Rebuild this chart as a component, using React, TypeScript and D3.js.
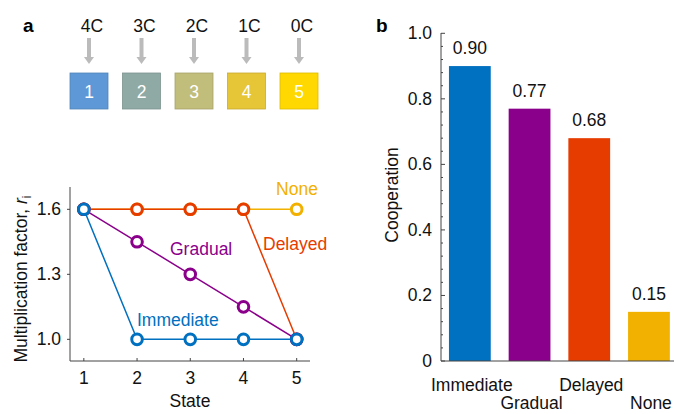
import React from "react";
import * as d3 from "d3";

const states = [1, 2, 3, 4, 5];
const stateLabels = ["4C", "3C", "2C", "1C", "0C"];
const stateColors = ["#5e98d6", "#8fa9a4", "#c1bd7b", "#e6c537", "#fed800"];

const seriesNames = ["None", "Delayed", "Gradual", "Immediate"];
const noneValues = [1.6, 1.6, 1.6, 1.6, 1.6];
const delayedValues = [1.6, 1.6, 1.6, 1.6, 1.0];
const gradualValues = [1.6, 1.45, 1.3, 1.15, 1.0];
const immediateValues = [1.6, 1.0, 1.0, 1.0, 1.0];
const seriesColors = ["#f2b100", "#e63c00", "#8b008b", "#0070c0"];
const yTicksA = [1.0, 1.3, 1.6];

const categories = ["Immediate", "Gradual", "Delayed", "None"];
const cooperation = [0.9, 0.77, 0.68, 0.15];
const barColors = ["#0070c0", "#8b008b", "#e63c00", "#f2b100"];
const yTicksB = [0, 0.2, 0.4, 0.6, 0.8, 1.0];

const FONT = "'Liberation Sans', Arial, Helvetica, sans-serif";
const AX = "#444";
const FS = 17.5;

export default function App() {
  // Panel a scales
  const xA = d3.scaleLinear().domain([0.74, 5.25]).range([70, 310]);
  const yA = d3.scaleLinear().domain([0.9, 1.703]).range([361, 187]);
  const sq = d3.scaleLinear().domain([1, 5]).range([89, 299]);
  const allSeries = [noneValues, delayedValues, gradualValues, immediateValues];
  const line = d3
    .line<number>()
    .x((_, i) => xA(states[i]))
    .y((d) => yA(d));

  // Panel b scales
  const xB = d3
    .scaleBand<string>()
    .domain(categories)
    .range([440, 440 + 59.7 * 4])
    .paddingInner(0.3)
    .paddingOuter(0.15);
  const yB = d3.scaleLinear().domain([0, 1]).range([361, 33.3]);
  const minorB = d3.range(0, 1.0001, 0.04).filter((v) => Math.abs(Math.round(v * 5) - v * 5) > 1e-6);

  const labelPos = [
    { x: 297, y: 195, anchor: "middle" },
    { x: 263, y: 250, anchor: "start" },
    { x: 170, y: 255, anchor: "start" },
    { x: 137, y: 326, anchor: "start" },
  ];

  return (
    <svg width={674} height={414} style={{ position: "absolute", left: 0, top: 0, fontFamily: FONT }}>
      <rect width={674} height={414} fill="#fff" />
      {/* Panel labels */}
      <text x={23} y={32} fontSize={19} fontWeight="bold" fill="#000">a</text>
      <text x={376} y={32} fontSize={19} fontWeight="bold" fill="#000">b</text>

      {/* State squares */}
      {states.map((s, i) => {
        const cx = sq(s);
        return (
          <g key={s}>
            <text x={cx + 3} y={32} fontSize={FS} textAnchor="middle" fill="#111">{stateLabels[i]}</text>
            <rect x={cx - 2} y={38} width={4} height={20} fill="#bbb" />
            <path d={`M${cx - 5},57 L${cx + 5},57 L${cx},64 Z`} fill="#bbb" />
            <rect x={cx - 19} y={73} width={38} height={36} fill={stateColors[i]} stroke={d3.color(stateColors[i])!.darker(0.4).toString()} strokeWidth={0.8} />
            <text x={cx} y={98} fontSize={FS} textAnchor="middle" fill="#fff">{s}</text>
          </g>
        );
      })}

      {/* Panel a axes */}
      <line x1={70} x2={70} y1={187} y2={361} stroke={AX} strokeWidth={1} />
      <line x1={70} x2={310} y1={361} y2={361} stroke={AX} strokeWidth={1} />
      {yTicksA.map((t) => (
        <g key={t}>
          <line x1={67} x2={70} y1={yA(t)} y2={yA(t)} stroke={AX} />
          <text x={61} y={yA(t) + 6} fontSize={FS} textAnchor="end" fill="#111">{t.toFixed(1)}</text>
        </g>
      ))}
      {states.map((s) => (
        <g key={s}>
          <line x1={xA(s)} x2={xA(s)} y1={358} y2={361} stroke={AX} />
          <text x={xA(s)} y={384} fontSize={FS} textAnchor="middle" fill="#111">{s}</text>
        </g>
      ))}
      <text x={190} y={407} fontSize={FS} textAnchor="middle" fill="#111">State</text>
      <text transform="translate(27,279) rotate(-90)" fontSize={FS} textAnchor="middle" fill="#111">
        Multiplication factor, <tspan fontStyle="italic">r</tspan>
        <tspan fontSize={12} dy={4}>i</tspan>
      </text>

      {/* Lines */}
      {allSeries.map((vals, k) => (
        <g key={seriesNames[k]}>
          <path d={line(vals)!} fill="none" stroke={seriesColors[k]} strokeWidth={1.5} />
          {vals.map((v, i) => (
            <circle key={i} cx={xA(states[i])} cy={yA(v)} r={5.3} fill="#fff" stroke={seriesColors[k]} strokeWidth={3} />
          ))}
          <text x={labelPos[k].x} y={labelPos[k].y} fontSize={FS} textAnchor={labelPos[k].anchor as any} fill={seriesColors[k]}>
            {seriesNames[k]}
          </text>
        </g>
      ))}

      {/* Panel b */}
      {categories.map((c, i) => (
        <g key={c}>
          <rect x={xB(c)!} y={yB(cooperation[i])} width={xB.bandwidth()} height={yB(0) - yB(cooperation[i])} fill={barColors[i]} />
          <text x={xB(c)! + xB.bandwidth() / 2} y={yB(cooperation[i]) - 12} fontSize={FS} textAnchor="middle" fill="#111">
            {cooperation[i].toFixed(2)}
          </text>
          <text x={xB(c)! + xB.bandwidth() / 2 + 2} y={i % 2 === 0 ? 391 : 409} fontSize={FS} textAnchor="middle" fill="#111">
            {c}
          </text>
        </g>
      ))}
      <line x1={441} x2={441} y1={33} y2={361} stroke={AX} strokeWidth={1} />
      <line x1={441} x2={674} y1={361} y2={361} stroke={AX} strokeWidth={1} />
      {yTicksB.map((t) => (
        <g key={t}>
          <line x1={441} x2={445} y1={yB(t)} y2={yB(t)} stroke={AX} />
          <text x={432} y={yB(t) + 6} fontSize={FS} textAnchor="end" fill="#111">{t === 0 ? "0" : t.toFixed(1)}</text>
        </g>
      ))}
      {minorB.map((t) => (
        <line key={t} x1={441} x2={443} y1={yB(t)} y2={yB(t)} stroke={AX} />
      ))}
      <text transform="translate(398,195) rotate(-90)" fontSize={FS} textAnchor="middle" fill="#111">Cooperation</text>
    </svg>
  );
}
